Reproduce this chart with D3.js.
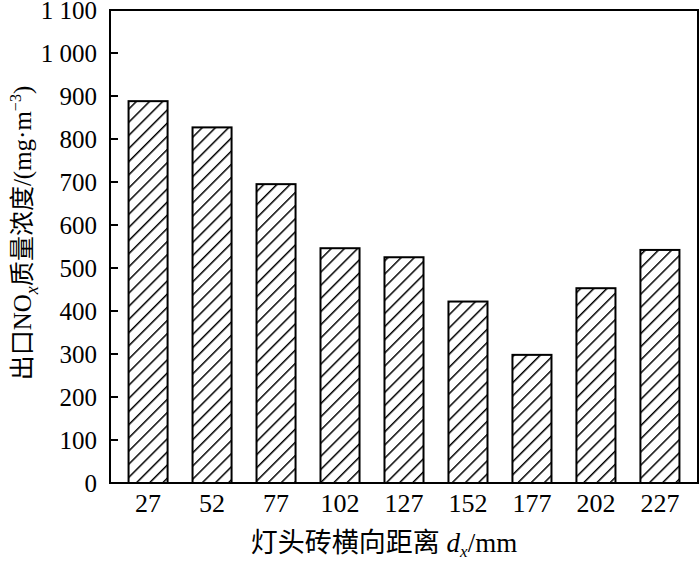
<!DOCTYPE html>
<html>
<head>
<meta charset="utf-8">
<script src="https://cdn.jsdelivr.net/npm/d3@7"></script>
<style>
body{margin:0;background:#fff;}
svg{display:block;}
.num{font-family:"Liberation Serif","Times New Roman",serif;fill:#000;}
.cjk{font-family:"Liberation Serif","Noto Sans CJK SC",serif;fill:#000;}
</style>
</head>
<body>
<div id="chart"></div>
<script>
// distances (mm) and NOx outlet concentration (mg/m3)
var categories=["27","52","77","102","127","152","177","202","227"];
var values=[888,827,695,546,525,422,298,453,542];
var yTicks=[0,100,200,300,400,500,600,700,800,900,1000,1100];

var width=700,height=561;
var plotLeft=110,plotRight=698,plotTop=10,plotBottom=483;

var svg=d3.select("#chart").append("svg")
	.attr("width",width)
	.attr("height",height);

var defs=svg.append("defs");
var pat=defs.append("pattern")
	.attr("id","hatch")
	.attr("patternUnits","userSpaceOnUse")
	.attr("width",9.3)
	.attr("height",9.3)
	.attr("patternTransform","rotate(45)");
pat.append("rect").attr("width",9.3).attr("height",9.3).attr("fill","#fff");
pat.append("line")
	.attr("x1",0).attr("y1",0).attr("x2",0).attr("y2",9.3)
	.attr("stroke","#000").attr("stroke-width",3);

var x=d3.scaleBand()
	.domain(categories)
	.range([plotLeft,plotRight])
	.paddingInner(0.39)
	.paddingOuter(0.29);

var y=d3.scaleLinear()
	.domain([0,1100])
	.range([plotBottom,plotTop]);

// bars
svg.selectAll("rect.bar")
	.data(values)
	.enter()
	.append("rect")
	.attr("class","bar")
	.attr("x",function(d,i){return x(categories[i]);})
	.attr("y",function(d){return y(d);})
	.attr("width",x.bandwidth())
	.attr("height",function(d){return y(0)-y(d);})
	.attr("fill","url(#hatch)")
	.attr("stroke","#000")
	.attr("stroke-width",2);

// frame
svg.append("rect")
	.attr("x",plotLeft).attr("y",plotTop)
	.attr("width",plotRight-plotLeft).attr("height",plotBottom-plotTop)
	.attr("fill","none")
	.attr("stroke","#000")
	.attr("stroke-width",2);

// y ticks (inward)
svg.selectAll("line.ytick")
	.data(yTicks)
	.enter()
	.append("line")
	.attr("class","ytick")
	.attr("x1",plotLeft).attr("x2",plotLeft+8)
	.attr("y1",function(d){return y(d);})
	.attr("y2",function(d){return y(d);})
	.attr("stroke","#000").attr("stroke-width",2);

var fmt=function(d){return d>=1000 ? Math.floor(d/1000)+" "+d3.format("03")(d%1000) : String(d);};

svg.selectAll("text.ylab")
	.data(yTicks)
	.enter()
	.append("text")
	.attr("class","ylab num")
	.attr("x",97)
	.attr("y",function(d){return y(d);})
	.attr("dy","0.34em")
	.attr("text-anchor","end")
	.style("font-size","25px")
	.text(fmt);

svg.selectAll("text.xlab")
	.data(categories)
	.enter()
	.append("text")
	.attr("class","xlab num")
	.attr("x",function(d){return x(d)+x.bandwidth()/2;})
	.attr("y",512)
	.attr("text-anchor","middle")
	.style("font-size","26px")
	.text(function(d){return d;});

// x title
var xt=svg.append("text")
	.attr("class","cjk")
	.attr("x",384)
	.attr("y",552)
	.attr("text-anchor","middle")
	.style("font-size","27px");
xt.append("tspan").text("灯头砖横向距离 ");
xt.append("tspan").style("font-style","italic").text("d");
xt.append("tspan").style("font-style","italic").style("font-size","17px").attr("dy",5).text("x");
xt.append("tspan").attr("dy",-5).text("/mm");

// y title
var yt=svg.append("text")
	.attr("class","cjk")
	.attr("transform","translate(31,233) rotate(-90)")
	.attr("text-anchor","middle")
	.style("font-size","25px");
yt.append("tspan").text("出口NO");
yt.append("tspan").style("font-style","italic").style("font-size","18px").attr("dy",7).text("x");
yt.append("tspan").attr("dy",-7).text("质量浓度/(mg·m");
yt.append("tspan").style("font-size","16px").attr("dy",-10).text("−3");
yt.append("tspan").attr("dy",10).text(")");
</script>
</body>
</html>
